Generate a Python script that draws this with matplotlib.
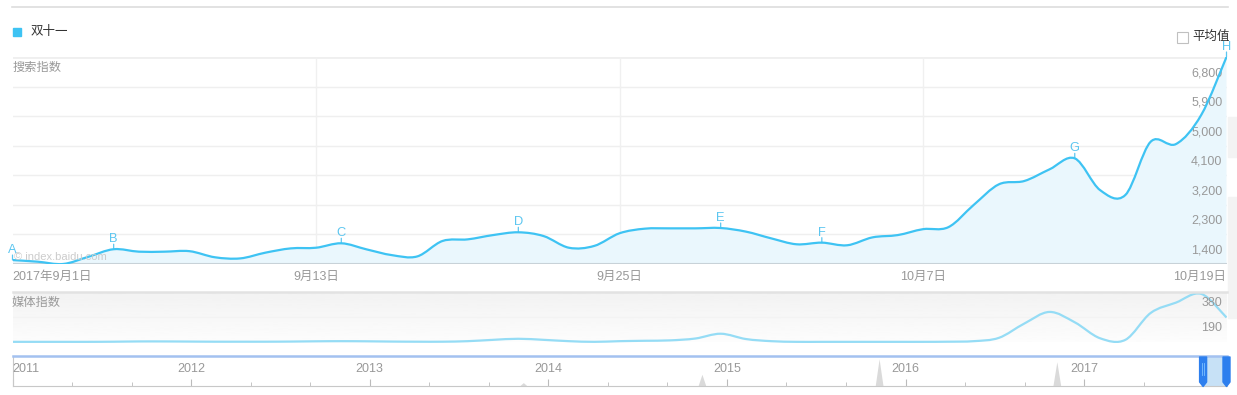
import numpy as np
import matplotlib.pyplot as plt
from matplotlib.path import Path
from matplotlib.patches import PathPatch, Rectangle, Polygon

plt.rcParams['font.family'] = ['Liberation Sans', 'Noto Sans CJK SC', 'DejaVu Sans']

# 搜索指数, daily 2017-09-01 .. 2017-10-19
search_index = [620, 570, 500, 720, 950, 875, 875, 890, 705, 670,
                845, 975, 995, 1130, 945, 770, 730, 1200, 1250, 1380,
                1465, 1350, 995, 1050, 1435, 1575, 1585, 1585, 1595, 1485,
                1280, 1100, 1150, 1070, 1310, 1380, 1560, 1620, 2295, 2925,
                3025, 3380, 3715, 2750, 2600, 4220, 4150, 5035, 6800]
# 媒体指数, same days
media_index = [5, 5, 5, 5, 6, 8, 8, 7, 6, 6,
               6, 7, 9, 10, 9, 7, 6, 6, 10, 20,
               28, 20, 10, 5, 10, 13, 16, 30, 66, 26,
               10, 5, 5, 5, 5, 5, 5, 6, 10, 35,
               142, 230, 152, 32, 20, 222, 300, 366, 188]

date_ticks = [0, 12, 24, 36, 48]
date_labels = ['2017年9月1日', '9月13日', '9月25日', '10月7日', '10月19日']
y_ticks = [1400, 2300, 3200, 4100, 5000, 5900, 6800]
y_min, y_step = 500, 900
media_ticks = [190, 380]

# A..H markers (day index)
marker_days = [0, 4, 13, 20, 28, 32, 42, 48]
marker_labels = ['A', 'B', 'C', 'D', 'E', 'F', 'G', 'H']

# overview navigator (years, search index)
nav_years = [2011.0, 2013.838, 2013.86, 2013.882, 2014.838, 2014.86, 2014.882,
             2015.83, 2015.852, 2015.874, 2016.825, 2016.847, 2016.869, 2017.797]
nav_values = [0, 0, 1300, 0, 0, 4500, 0, 0, 10400, 0, 0, 9300, 0, 0]
nav_start, nav_end = 2011.0, 2017.797
sel_start, sel_end = 2017.666, 2017.797

W, H = 1237, 395
LINE = '#3ec3f3'
GRAY = '#999999'


def fx(px):
    return px / W


def fy(py):
    return 1 - py / H


def smooth_path(x, y, base=None):
    pts = np.column_stack([x, y]).astype(float)
    n = len(pts)
    verts = [pts[0]]
    codes = [Path.MOVETO]
    for i in range(n - 1):
        p0 = pts[max(i - 1, 0)]
        p1 = pts[i]
        p2 = pts[i + 1]
        p3 = pts[min(i + 2, n - 1)]
        verts += [p1 + (p2 - p0) / 6, p2 - (p3 - p1) / 6, p2]
        codes += [Path.CURVE4] * 3
    if base is not None:
        verts += [(x[-1], base), (x[0], base), (x[0], base)]
        codes += [Path.LINETO, Path.LINETO, Path.CLOSEPOLY]
    return Path(verts, codes)


fig = plt.figure(figsize=(W / 100, H / 100), dpi=100)

# top rule + legend
fig.add_artist(plt.Line2D([fx(12), fx(1228)], [fy(7), fy(7)], color='#dddddd', lw=1.2))
fig.add_artist(Rectangle((fx(13), fy(36)), 8 / W, 8 / H, color=LINE, transform=fig.transFigure))
fig.text(fx(31), fy(32), '双十一', fontsize=9, color='#333333', va='center')
fig.add_artist(Rectangle((fx(1177), fy(43)), 11 / W, 11 / H, facecolor='white',
                         edgecolor='#c0c0c0', lw=0.8, transform=fig.transFigure))
fig.text(fx(1192), fy(37), '平均值', fontsize=9, color='#333333', va='center')
for y0, y1 in [(117, 157), (197, 318)]:
    fig.add_artist(Rectangle((fx(1228), fy(y1)), 9 / W, (y1 - y0) / H, color='#f3f3f3',
                             transform=fig.transFigure, zorder=0))

# main chart
days = np.arange(len(search_index))
y_top = y_min + y_step * 7
ax = fig.add_axes([fx(12.5), fy(264), 1214 / W, 207 / H])
ax.set_xlim(0, len(search_index) - 1)
ax.set_ylim(y_min, y_top)
ax.axis('off')
for k in range(1, 8):
    v = y_min + y_step * k
    ax.axhline(v, color='#efefef', lw=2 if k == 7 else 1, zorder=0)
for d in date_ticks[1:-1]:
    ax.axvline(d, color='#f0f0f0', lw=1, zorder=0)
ax.axhline(y_min, color='#c8d2d8', lw=1.5, zorder=3)

ax.add_patch(PathPatch(smooth_path(days, search_index, base=y_min), facecolor='#eaf7fd',
                       edgecolor='none', zorder=1))
ax.add_patch(PathPatch(smooth_path(days, search_index), facecolor='none',
                       edgecolor=LINE, lw=1.6, zorder=4))

for v in y_ticks:
    ax.annotate(f'{v:,}', xy=(1, v), xycoords=('axes fraction', 'data'), xytext=(-4, -16),
                textcoords='offset pixels', ha='right', va='center', fontsize=9, color=GRAY)
for i, (d, lab) in enumerate(zip(date_ticks, date_labels)):
    ha = 'left' if i == 0 else ('right' if i == len(date_ticks) - 1 else 'center')
    ax.annotate(lab, xy=(d, y_min), xytext=(0, -13), textcoords='offset pixels',
                ha=ha, va='center', fontsize=9, color=GRAY, annotation_clip=False)

for d, lab in zip(marker_days, marker_labels):
    v = search_index[d]
    ax.annotate('', xy=(d, v), xytext=(0, 5), textcoords='offset pixels',
                arrowprops=dict(arrowstyle='-', color='#5cc6f0', lw=0.9, shrinkA=0, shrinkB=0),
                annotation_clip=False)
    ax.annotate(lab, xy=(d, v), xytext=(0, 7), textcoords='offset pixels', ha='center',
                va='baseline', fontsize=9.3, color='#5cc6f0', zorder=6, annotation_clip=False)

fig.text(fx(13), fy(68), '搜索指数', fontsize=8.8, color=GRAY, va='center')
ax.text(0.001, 0.035, '© index.baidu.com', transform=ax.transAxes, fontsize=8,
        color='#cccccc', va='center', zorder=5)

# media index panel
axm = fig.add_axes([fx(12.5), fy(342.5), 1214 / W, 50.5 / H])
axm.set_xlim(0, len(media_index) - 1)
axm.set_ylim(0, media_ticks[-1])
axm.axis('off')
grad = np.linspace(0.948, 0.99, 100)[:, None]
axm.imshow(grad, cmap='gray', vmin=0, vmax=1, extent=[0, 1, 0, 1], transform=axm.transAxes,
           aspect='auto', zorder=0)
axm.axhline(media_ticks[0], color='#f3f3f3', lw=1, zorder=1)
fig.add_artist(plt.Line2D([fx(12.5), fx(1226.5)], [fy(292), fy(292)], color='#e2e2e2', lw=1.8))
axm.add_patch(PathPatch(smooth_path(days, media_index), facecolor='none',
                        edgecolor='#95dcf5', lw=1.6, zorder=3))
for v in media_ticks:
    axm.annotate(str(v), xy=(1, v), xycoords=('axes fraction', 'data'), xytext=(-4, -11),
                 textcoords='offset pixels', ha='right', va='center', fontsize=9, color=GRAY)
fig.text(fx(12), fy(303), '媒体指数', fontsize=8.8, color=GRAY, va='center')

# navigator
axn = fig.add_axes([fx(12.5), fy(386), 1214 / W, 30 / H])
axn.set_xlim(nav_start, nav_end)
axn.set_ylim(0, 11500)
axn.fill_between(nav_years, nav_values, color='#dadada', lw=0, zorder=1)
axn.axvspan(sel_start, sel_end, color='#c7e1f6', lw=0, zorder=2)
axn.spines['right'].set_visible(False)
axn.spines['top'].set_color('#a3c1f0')
axn.spines['top'].set_linewidth(1.8)
axn.spines['left'].set_color('#c8c8c8')
axn.spines['bottom'].set_color('#c8c8c8')
years = np.arange(2011, 2018)
axn.set_xticks(years)
axn.set_xticks([y + f for y in years for f in (1 / 3, 2 / 3) if y + f < nav_end], minor=True)
axn.tick_params(axis='x', which='major', direction='in', length=5, color='#bbbbbb',
                labelbottom=False)
axn.tick_params(axis='x', which='minor', direction='in', length=3, color='#bbbbbb')
axn.set_yticks([])
for i, yr in enumerate(years):
    axn.text(yr, 0.55, str(yr), transform=axn.get_xaxis_transform(), fontsize=9, color=GRAY,
             ha='left' if i == 0 else 'center', va='center')

# selection handles
to_px = axn.transData.transform
for xs in (sel_start, sel_end):
    cx = to_px((xs, 0))[0]
    y_top_px = fig.transFigure.transform((0, fy(357)))[1]
    y_mid = fig.transFigure.transform((0, fy(382)))[1]
    y_bot = fig.transFigure.transform((0, fy(386.5)))[1]
    pts = [(cx - 3.5, y_top_px), (cx + 3.5, y_top_px), (cx + 3.5, y_mid), (cx, y_bot),
           (cx - 3.5, y_mid)]
    fig.add_artist(Polygon(pts, closed=True, color='#2d7fee', transform=None, zorder=5,
                           joinstyle='round'))
    if xs == sel_start:
        for dx in (-1, 1):
            fig.add_artist(plt.Line2D([cx + dx, cx + dx], [y_top_px - 6, y_top_px - 18],
                                      color='#7cc0ff', lw=0.6, transform=None, zorder=6))

fig.savefig('out.png', dpi=100)
